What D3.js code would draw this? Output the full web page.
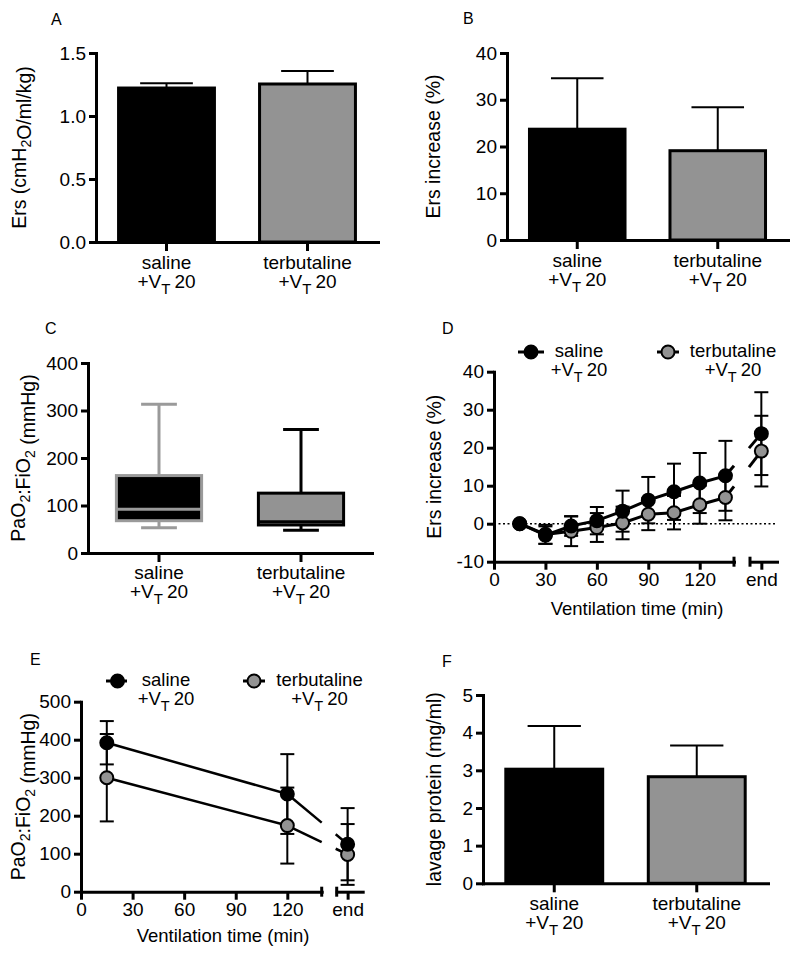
<!DOCTYPE html>
<html><head><meta charset="utf-8">
<script src="https://cdn.jsdelivr.net/npm/d3@7"></script>
<style>
body{margin:0;background:#fff}
text{font-family:"Liberation Sans",Arial,Helvetica,sans-serif;fill:#000}
</style>
</head><body>
<svg id="c" width="800" height="960"></svg>
<script>
// ---------------- DATA ----------------
const categories = ["saline", "terbutaline"];
// A: Ers (cmH2O/ml/kg)
const ersMean = [1.222, 1.254];
const ersErr  = [0.038, 0.103];
const ticksA  = [0, 0.5, 1.0, 1.5];
// B: Ers increase (%)
const ersIncMean = [23.7, 19.1];
const ersIncErr  = [10.9, 9.3];
const ticksB = [0, 10, 20, 30, 40];
// C: PaO2:FiO2 box plot
const pfMin    = [53, 48];
const pfQ1     = [68, 59];
const pfMedian = [92, 66];
const pfQ3     = [163, 126];
const pfMax    = [313, 260];
const ticksC = [0, 100, 200, 300, 400];
// D: Ers increase over time
const timesD = [15, 30, 45, 60, 75, 90, 105, 120, 135];
const salineErs   = [0, -3.0, -0.6, 0.8, 3.3, 6.2, 8.4, 10.7, 12.6];
const salineErsSD = [0, 2.3, 2.6, 3.6, 5.4, 6.1, 7.4, 7.9, 9.2];
const terbErs     = [0, -2.8, -2.0, -1.0, 0.2, 2.5, 2.9, 5.0, 6.9];
const terbErsSD   = [0, 2.5, 3.9, 3.8, 4.3, 4.2, 4.4, 5.0, 6.0];
const ticksDy = [-10, 0, 10, 20, 30, 40];
const ticksTime = [0, 30, 60, 90, 120];
// E: PaO2:FiO2 over time
const timesE = [15, 120];
const salinePF   = [392, 257];
const salinePFsd = [57, 105];
const terbPF     = [300, 174];
const terbPFsd   = [115, 100];
const pfEndMean  = [125, 98];
const pfEndSD    = [95, 80];
const ticksEy = [0, 100, 200, 300, 400, 500];
// F: lavage protein (mg/ml)
const protMean = [3.03, 2.83];
const protErr  = [1.15, 0.83];
const ticksF = [0, 1, 2, 3, 4, 5];

const GRAY = "#939393";
const FONT = "'Liberation Sans',Arial,Helvetica,sans-serif";

// ---------------- HELPERS ----------------
const svg = d3.select("#c");

function styleAxis(sel) {
  sel.attr("font-size", 19).attr("font-family", FONT);
  sel.select(".domain").attr("stroke", "#000").attr("stroke-width", 3).attr("stroke-linecap", "square");
  sel.selectAll(".tick line").attr("stroke", "#000").attr("stroke-width", 3);
  sel.selectAll(".tick text").attr("fill", "#000");
}

function vtLabel(g, x, y, name, fs) {
  fs = fs || 19;
  g.append("text").attr("x", x).attr("y", y).attr("text-anchor", "middle")
    .style("font-size", fs + "px").text(name);
  const t = g.append("text").attr("x", x).attr("y", y + 19).attr("text-anchor", "middle")
    .style("font-size", fs + "px");
  t.append("tspan").text("+V");
  t.append("tspan").attr("dy", 6).style("font-size", (fs - 4) + "px").text("T");
  t.append("tspan").attr("dy", -6).attr("dx", 4).text("20");
}

function yLabel(g, x, y, parts) {
  const t = g.append("text").attr("transform", `translate(${x},${y}) rotate(-90)`)
    .attr("text-anchor", "middle").style("font-size", "19.5px");
  parts.forEach(p => {
    if (p.sub) {
      t.append("tspan").attr("dy", 5).style("font-size", "14px").text(p.text);
      t.append("tspan").attr("dy", -5).text("");
    } else {
      t.append("tspan").text(p.text);
    }
  });
}

function panelLetter(x, y, s) {
  svg.append("text").attr("x", x).attr("y", y).style("font-size", "16px").text(s);
}

function barPanel(o) {
  const g = svg.append("g");
  const y = d3.scaleLinear().domain([o.ticks[0], o.ticks[o.ticks.length - 1]]).range([o.yBottom, o.yTop]);
  const x = d3.scaleBand().domain(categories).range([o.xLeft, o.xRight]).paddingInner(0.32).paddingOuter(0.16);
  const fills = ["#000", GRAY];
  g.selectAll("rect.bar").data(categories).join("rect")
    .attr("x", d => x(d)).attr("width", x.bandwidth())
    .attr("y", (d, i) => y(o.mean[i])).attr("height", (d, i) => y(0) - y(o.mean[i]))
    .attr("fill", (d, i) => fills[i]).attr("stroke", "#000").attr("stroke-width", 3);
  const cw = x.bandwidth() * 0.55;
  categories.forEach((c, i) => {
    const cx = x(c) + x.bandwidth() / 2;
    g.append("line").attr("x1", cx).attr("x2", cx)
      .attr("y1", y(o.mean[i])).attr("y2", y(o.mean[i] + o.err[i]))
      .attr("stroke", "#000").attr("stroke-width", 2);
    g.append("line").attr("x1", cx - cw / 2).attr("x2", cx + cw / 2)
      .attr("y1", y(o.mean[i] + o.err[i])).attr("y2", y(o.mean[i] + o.err[i]))
      .attr("stroke", "#000").attr("stroke-width", 2);
  });
  g.append("g").attr("transform", `translate(0,${o.yBottom})`)
    .call(d3.axisBottom(x).tickSize(9).tickSizeOuter(0).tickFormat(""))
    .call(styleAxis);
  g.append("g").attr("transform", `translate(${o.xLeft},0)`)
    .call(d3.axisLeft(y).tickValues(o.ticks).tickSize(7).tickPadding(3).tickSizeOuter(0).tickFormat(o.fmt))
    .call(styleAxis);
  categories.forEach(c => vtLabel(g, x(c) + x.bandwidth() / 2, o.yBottom + 27, c));
  yLabel(g, o.labelX, (o.yBottom + o.yTop) / 2, o.label);
  return g;
}

function boxPanel(o) {
  const g = svg.append("g");
  const y = d3.scaleLinear().domain([0, 400]).range([o.yBottom, o.yTop]);
  const x = d3.scaleBand().domain(categories).range([o.xLeft, o.xRight]).paddingInner(0.4).paddingOuter(0.2);
  const fills = ["#000", GRAY];
  const strokes = ["#9a9a9a", "#000"];
  const bw = x.bandwidth();
  const cw = bw * 0.42;
  categories.forEach((c, i) => {
    const cx = x(c) + bw / 2;
    const s = strokes[i];
    g.append("line").attr("x1", cx).attr("x2", cx).attr("y1", y(pfQ3[i])).attr("y2", y(pfMax[i]))
      .attr("stroke", s).attr("stroke-width", 3);
    g.append("line").attr("x1", cx).attr("x2", cx).attr("y1", y(pfQ1[i])).attr("y2", y(pfMin[i]))
      .attr("stroke", s).attr("stroke-width", 3);
    g.append("line").attr("x1", cx - cw / 2).attr("x2", cx + cw / 2).attr("y1", y(pfMax[i])).attr("y2", y(pfMax[i]))
      .attr("stroke", s).attr("stroke-width", 3);
    g.append("line").attr("x1", cx - cw / 2).attr("x2", cx + cw / 2).attr("y1", y(pfMin[i])).attr("y2", y(pfMin[i]))
      .attr("stroke", s).attr("stroke-width", 3);
    g.append("rect").attr("x", x(c)).attr("width", bw)
      .attr("y", y(pfQ3[i])).attr("height", y(pfQ1[i]) - y(pfQ3[i]))
      .attr("fill", fills[i]).attr("stroke", s).attr("stroke-width", 3);
    g.append("line").attr("x1", x(c)).attr("x2", x(c) + bw).attr("y1", y(pfMedian[i])).attr("y2", y(pfMedian[i]))
      .attr("stroke", s).attr("stroke-width", 3);
  });
  g.append("g").attr("transform", `translate(0,${o.yBottom})`)
    .call(d3.axisBottom(x).tickSize(9).tickSizeOuter(0).tickFormat(""))
    .call(styleAxis);
  g.append("g").attr("transform", `translate(${o.xLeft},0)`)
    .call(d3.axisLeft(y).tickValues(ticksC).tickSize(7).tickPadding(3).tickSizeOuter(0).tickFormat(d => String(d)))
    .call(styleAxis);
  categories.forEach(c => vtLabel(g, x(c) + bw / 2, o.yBottom + 26, c));
  yLabel(g, o.labelX, (o.yBottom + o.yTop) / 2, o.label);
}

function linePanel(o) {
  const g = svg.append("g");
  const x = d3.scaleLinear().domain([0, 140]).range([o.xLeft, o.xBreak]);
  const segStart = o.xBreak + o.gap;
  const xe = d3.scalePoint().domain(["end"]).range([segStart, segStart + o.segLen]).padding(0).align(0.42);
  const y = d3.scaleLinear().domain([o.ticksY[0], o.ticksY[o.ticksY.length - 1]]).range([o.yBottom, o.yTop]);

  if (o.zeroLine) {
    g.append("line").attr("x1", o.xLeft).attr("x2", segStart + o.segLen)
      .attr("y1", y(0)).attr("y2", y(0))
      .attr("stroke", "#000").attr("stroke-width", 1.5).attr("stroke-dasharray", "2,2.5");
  }

  const series = o.series;
  series.forEach(s => {
    const pts = s.t.map((t, i) => [x(t), y(s.m[i])]);
    g.append("path").attr("d", d3.line()(pts)).attr("fill", "none")
      .attr("stroke", "#000").attr("stroke-width", o.lw);
    const P = pts[pts.length - 1];
    const Q = [xe("end"), y(s.endM)];
    const f = t => P[1] + (Q[1] - P[1]) * (t - P[0]) / (Q[0] - P[0]);
    g.append("line").attr("x1", P[0]).attr("y1", P[1]).attr("x2", o.xBreak).attr("y2", f(o.xBreak))
      .attr("stroke", "#000").attr("stroke-width", o.lw);
    g.append("line").attr("x1", segStart - 1).attr("y1", f(segStart - 1)).attr("x2", Q[0]).attr("y2", Q[1])
      .attr("stroke", "#000").attr("stroke-width", o.lw);
  });
  const ch = 7;
  series.forEach(s => {
    const all = s.t.map((t, i) => ({ px: x(t), m: s.m[i], sd: s.sd[i] }))
      .concat([{ px: xe("end"), m: s.endM, sd: s.endSD }]);
    all.forEach(d => {
      if (!d.sd) return;
      const lo = y(d.m - d.sd), hi = y(d.m + d.sd);
      g.append("line").attr("x1", d.px).attr("x2", d.px).attr("y1", lo).attr("y2", hi)
        .attr("stroke", "#000").attr("stroke-width", 2);
      [lo, hi].forEach(yy => g.append("line").attr("x1", d.px - ch).attr("x2", d.px + ch)
        .attr("y1", yy).attr("y2", yy).attr("stroke", "#000").attr("stroke-width", 2));
    });
  });
  series.slice().reverse().forEach(s => {
    const all = s.t.map((t, i) => [x(t), y(s.m[i])]).concat([[xe("end"), y(s.endM)]]);
    g.selectAll(null).data(all).join("circle")
      .attr("cx", d => d[0]).attr("cy", d => d[1]).attr("r", 6.5)
      .attr("fill", s.fill).attr("stroke", "#000").attr("stroke-width", 2);
  });

  g.append("g").attr("transform", `translate(${o.xLeft},0)`)
    .call(d3.axisLeft(y).tickValues(o.ticksY).tickSize(7).tickPadding(3).tickSizeOuter(0).tickFormat(d => String(d)))
    .call(styleAxis);
  g.append("g").attr("transform", `translate(0,${o.yBottom})`)
    .call(d3.axisBottom(x).tickValues(ticksTime).tickSize(8).tickPadding(3).tickSizeOuter(0).tickFormat(d => String(d)))
    .call(styleAxis);
  g.append("g").attr("transform", `translate(0,${o.yBottom})`)
    .call(d3.axisBottom(xe).tickSize(8).tickPadding(3).tickSizeOuter(0))
    .call(styleAxis);
  [o.xBreak, segStart].forEach(bx => g.append("line").attr("x1", bx).attr("x2", bx)
    .attr("y1", o.yBottom - 5).attr("y2", o.yBottom + 5).attr("stroke", "#000").attr("stroke-width", 3));

  yLabel(g, o.labelX, (o.yBottom + o.yTop) / 2, o.label);
  g.append("text").attr("x", o.xTitleX).attr("y", o.xTitleY).attr("text-anchor", "middle")
    .style("font-size", "18.5px").text("Ventilation time (min)");

  o.legend.forEach((L, i) => {
    const s = series[i];
    g.append("line").attr("x1", L.lx0).attr("x2", L.lx1).attr("y1", L.cy).attr("y2", L.cy)
      .attr("stroke", "#000").attr("stroke-width", 3);
    g.append("circle").attr("cx", L.cx).attr("cy", L.cy).attr("r", 6.5)
      .attr("fill", s.fill).attr("stroke", "#000").attr("stroke-width", 2);
    vtLabel(g, L.tx, L.ty, categories[i], 18.5);
  });
}

// ---------------- PANELS ----------------
panelLetter(51, 24.5, "A");
barPanel({ xLeft: 96, xRight: 378, yBottom: 242, yTop: 53, ticks: ticksA, fmt: d3.format(".1f"),
  mean: ersMean, err: ersErr, labelX: 26,
  label: [{ text: "Ers (cmH" }, { text: "2", sub: true }, { text: "O/ml/kg)" }] });

panelLetter(463, 23.5, "B");
barPanel({ xLeft: 507, xRight: 788, yBottom: 240, yTop: 53, ticks: ticksB, fmt: d => String(d),
  mean: ersIncMean, err: ersIncErr, labelX: 440,
  label: [{ text: "Ers increase (%)" }] });

panelLetter(45, 333.5, "C");
boxPanel({ xLeft: 88, xRight: 372, yBottom: 553, yTop: 363, labelX: 25,
  label: [{ text: "PaO" }, { text: "2", sub: true }, { text: ":FiO" }, { text: "2", sub: true }, { text: " (mmHg)" }] });

panelLetter(442, 333.5, "D");
linePanel({ xLeft: 494, xBreak: 734, gap: 16, segLen: 27, yBottom: 561.7, yTop: 371.7, ticksY: ticksDy,
  zeroLine: true, lw: 3, labelX: 441, xTitleX: 637, xTitleY: 615,
  label: [{ text: "Ers increase (%)" }],
  series: [
    { t: timesD, m: salineErs, sd: salineErsSD, endM: ersIncMean[0], endSD: ersIncErr[0], fill: "#000" },
    { t: timesD, m: terbErs, sd: terbErsSD, endM: ersIncMean[1], endSD: ersIncErr[1], fill: GRAY }
  ],
  legend: [
    { lx0: 518, lx1: 544, cx: 531, cy: 352, tx: 579, ty: 357 },
    { lx0: 657, lx1: 679, cx: 668, cy: 352, tx: 733, ty: 357 }
  ] });

panelLetter(30, 665, "E");
linePanel({ xLeft: 81, xBreak: 321.7, gap: 15, segLen: 26, yBottom: 891.7, yTop: 701.7, ticksY: ticksEy,
  zeroLine: false, lw: 2.5, labelX: 25, xTitleX: 223, xTitleY: 942,
  label: [{ text: "PaO" }, { text: "2", sub: true }, { text: ":FiO" }, { text: "2", sub: true }, { text: " (mmHg)" }],
  series: [
    { t: timesE, m: salinePF, sd: salinePFsd, endM: pfEndMean[0], endSD: pfEndSD[0], fill: "#000" },
    { t: timesE, m: terbPF, sd: terbPFsd, endM: pfEndMean[1], endSD: pfEndSD[1], fill: GRAY }
  ],
  legend: [
    { lx0: 106, lx1: 127, cx: 117.5, cy: 681, tx: 166, ty: 686 },
    { lx0: 243, lx1: 265, cx: 254, cy: 681, tx: 319.5, ty: 686 }
  ] });

panelLetter(442, 666.5, "F");
barPanel({ xLeft: 483, xRight: 768, yBottom: 883.3, yTop: 695, ticks: ticksF, fmt: d => String(d),
  mean: protMean, err: protErr, labelX: 441,
  label: [{ text: "lavage protein (mg/ml)" }] });
</script>
</body></html>
